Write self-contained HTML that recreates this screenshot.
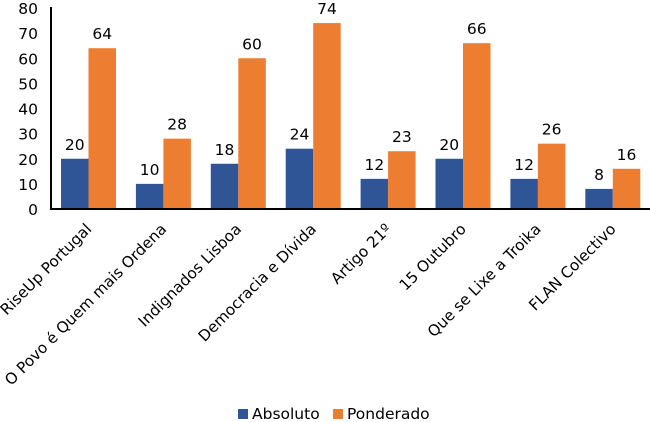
<!DOCTYPE html>
<html><head><meta charset="utf-8"><style>
body{margin:0;background:#fff}
svg{display:block;font-family:"DejaVu Sans","Liberation Sans",sans-serif}
</style></head><body>
<svg id="chart" width="650" height="422" viewBox="0 0 650 422"></svg>
<script>
const categories=["RiseUp Portugal","O Povo é Quem mais Ordena","Indignados Lisboa","Democracia e Dívida","Artigo 21º","15 Outubro","Que se Lixe a Troika","FLAN Colectivo"];
const absoluto=[20,10,18,24,12,20,12,8];
const ponderado=[64,28,60,74,23,66,26,16];
const ticks=[0,10,20,30,40,50,60,70,80];
const NS="http://www.w3.org/2000/svg";
const svg=document.getElementById('chart');
const x0=51,gw=74.9,y0=209,yTop=8,ymax=80,bw=27.5;
const y=v=>y0-(y0-yTop)*v/ymax;
const gx=i=>x0+gw*i;
function mk(t,a,txt){const e=document.createElementNS(NS,t);for(const k in a)e.setAttribute(k,a[k]);if(txt!=null)e.textContent=txt;svg.appendChild(e);return e;}
ticks.forEach(t=>{
 const e=mk('text',{x:38,y:y(t)+6,'text-anchor':'end','font-size':15.5,fill:'#000'},t);
 
 
});
categories.forEach((c,i)=>{
 const bx=gx(i)+10;
 const b1=mk('rect',{x:bx,y:y(absoluto[i]),width:bw,height:y0-y(absoluto[i]),fill:'#2F5597'});
 
 
 const b2=mk('rect',{x:bx+bw,y:y(ponderado[i]),width:bw,height:y0-y(ponderado[i]),fill:'#ED7D31'});
 
 
 const l1=mk('text',{x:bx+bw/2,y:y(absoluto[i])-9,'text-anchor':'middle','font-size':15.5},absoluto[i]);
 
 
 const l2=mk('text',{x:bx+bw*1.5,y:y(ponderado[i])-9,'text-anchor':'middle','font-size':15.5},ponderado[i]);
 
 
 const cx=gx(i)+gw/2+4,cy=230;
 const cl=mk('text',{x:cx,y:cy,'text-anchor':'end','font-size':15.3,transform:`rotate(-45 ${cx} ${cy})`},c);
 
 
});
const ax=mk('line',{x1:x0,y1:7,x2:x0,y2:y0+1,stroke:'#000','stroke-width':2});


const bl=mk('line',{x1:x0-1,y1:y0,x2:650,y2:y0,stroke:'#000','stroke-width':2});


const s1=mk('rect',{x:238,y:409,width:10,height:10,fill:'#2F5597'});


const t1=mk('text',{x:252,y:419,'font-size':15.5},'Absoluto');


const s2=mk('rect',{x:333,y:409,width:10,height:10,fill:'#ED7D31'});


const t2=mk('text',{x:347,y:419,'font-size':15.5},'Ponderado');


</script>
</body></html>
